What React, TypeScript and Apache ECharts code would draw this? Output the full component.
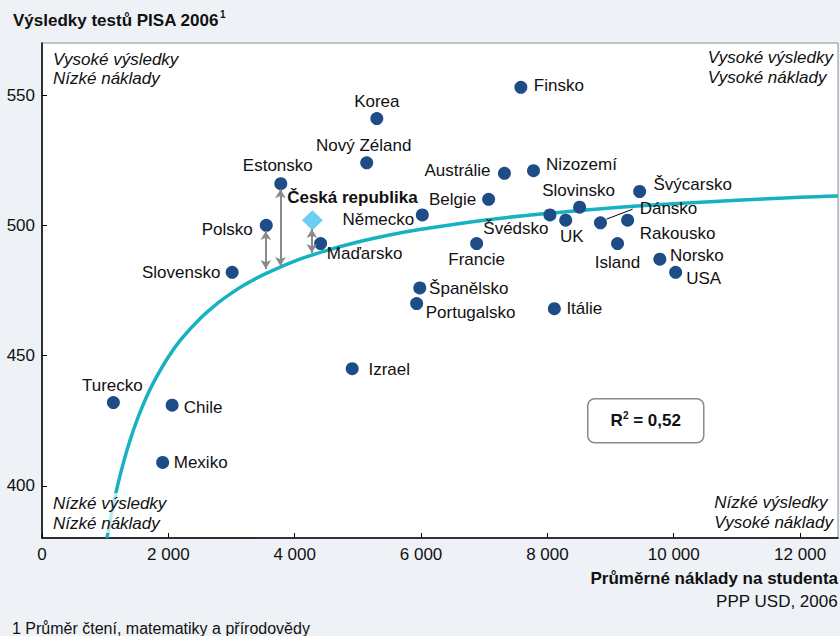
import React, { useEffect, useRef } from 'react';
import * as echarts from 'echarts';

const countries = ['Finsko', 'Korea', 'Nový Zéland', 'Estonsko', 'Austrálie', 'Nizozemí', 'Belgie', 'Německo', 'Slovinsko', 'Švédsko', 'UK', 'Dánsko', 'Rakousko', 'Švýcarsko', 'Island', 'Norsko', 'USA', 'Francie', 'Polsko', 'Maďarsko', 'Slovensko', 'Španělsko', 'Portugalsko', 'Itálie', 'Izrael', 'Turecko', 'Chile', 'Mexiko'];
const costs = [7580, 5300, 5140, 3780, 7320, 7780, 7070, 6020, 8510, 8040, 8290, 8840, 9270, 9460, 9110, 9780, 10030, 6880, 3550, 4410, 3010, 5980, 5930, 8110, 4910, 1130, 2060, 1910];
const scores = [553, 541, 524, 516, 520, 521, 510, 504, 507, 504, 502, 501, 502, 513, 493, 487, 482, 493, 500, 493, 482, 476, 470, 468, 445, 432, 431, 409];

const czName = 'Česká republika';
const czCost = 4280;
const czScore = 502;

// trend curve
const curveX = [1030, 1100, 1200, 1300, 1400, 1500, 1600, 1700, 1800, 2000, 2200, 2500, 2800, 3000, 3200, 3500, 4000, 4500, 5000, 5500, 6000, 7000, 8000, 9000, 10000, 11000, 12000, 12600];
const curveY = [380, 389.4, 400.5, 409.9, 418, 425, 431.1, 436.5, 441.3, 449.5, 456.2, 464.2, 470.5, 474, 477.1, 481, 486.3, 490.3, 493.6, 496.3, 498.5, 502, 504.6, 506.7, 508.3, 509.6, 510.8, 511.3];

// distance arrows (to the curve)
const arrowX = [3543, 3774, 4271];
const arrowTop = [497.8, 513.9, 498.6];
const arrowBottom = [483.3, 484.4, 489.4];

const xTicks = [0, 2000, 4000, 6000, 8000, 10000, 12000];
const yTicks = [400, 450, 500, 550];

const r2Text = '0,52';

// label placement (style)
const labelOffsets: Record<string, [number, number]> = {
  'Finsko': [38, -2],
  'Korea': [0, -17],
  'Nový Zéland': [-3, -17],
  'Estonsko': [-3, -18],
  'Austrálie': [-47, -3],
  'Nizozemí': [48, -6],
  'Belgie': [-36, 0],
  'Německo': [-44, 5],
  'Slovinsko': [-1, -17],
  'Švédsko': [-34, 14],
  'UK': [6, 16],
  'Dánsko': [68, -14],
  'Rakousko': [50, 13],
  'Švýcarsko': [53, -7],
  'Island': [0, 19],
  'Norsko': [37, -4],
  'USA': [28, 6],
  'Francie': [0, 16],
  'Polsko': [-39, 4],
  'Maďarsko': [44, 10],
  'Slovensko': [-51, 0],
  'Španělsko': [49, 1],
  'Portugalsko': [54, 9],
  'Itálie': [30, 0],
  'Izrael': [37, 1],
  'Turecko': [-1, -17],
  'Chile': [31, 2],
  'Mexiko': [38, 0],
};

const FONT = 'Liberation Sans, Arial, Helvetica, sans-serif';
const TXT = '#111111';

export default function App() {
  const ref = useRef<HTMLDivElement>(null);
  useEffect(() => {
    if (!ref.current) return;
    const chart = echarts.init(ref.current, undefined, { renderer: 'svg' });
    const fmt = (v: number) => String(v).replace(/\B(?=(\d{3})+(?!\d))/g, ' ');
    const option: any = {
      animation: false,
      backgroundColor: '#eef2f6',
      textStyle: { fontFamily: FONT },
      title: {
        left: 8,
        top: 4,
        text: '{t|Výsledky testů PISA 2006}{s|1}',
        textStyle: {
          rich: {
            t: { fontSize: 17, fontWeight: 'bold', color: TXT, fontFamily: FONT, lineHeight: 22 },
            s: { fontSize: 10, fontWeight: 'bold', color: TXT, fontFamily: FONT, verticalAlign: 'top', lineHeight: 12, padding: [0, 0, 8, 1] },
          },
        },
      },
      grid: {
        left: 42,
        right: 2,
        top: 43,
        bottom: 98,
        show: true,
        backgroundColor: '#ffffff',
        borderColor: '#8c8c8c',
        borderWidth: 1,
      },
      xAxis: {
        type: 'value',
        min: 0,
        max: 12600,
        splitLine: { show: false },
        axisLine: { show: true, onZero: false, lineStyle: { color: '#000', width: 1.5 } },
        axisTick: { show: true, inside: true, length: 5, customValues: xTicks, lineStyle: { color: '#000' } },
        axisLabel: { customValues: xTicks, formatter: (v: number) => fmt(v), fontSize: 17, color: TXT, margin: 8, fontFamily: FONT },
      },
      yAxis: {
        type: 'value',
        min: 380,
        max: 570,
        splitLine: { show: false },
        axisLine: { show: true, onZero: false, lineStyle: { color: '#000', width: 1.5 } },
        axisTick: { show: true, inside: true, length: 5, customValues: yTicks, lineStyle: { color: '#000' } },
        axisLabel: { customValues: yTicks, fontSize: 17, color: TXT, margin: 7, fontFamily: FONT },
      },
      series: [
        {
          type: 'line',
          data: curveX.map((x, i) => [x, curveY[i]]),
          smooth: 0.4,
          showSymbol: false,
          lineStyle: { color: '#17b2c1', width: 3.5 },
          z: 2,
          silent: true,
        },
        {
          type: 'scatter',
          symbol: 'circle',
          symbolSize: 13,
          itemStyle: { color: '#1d4c86', opacity: 1 },
          z: 4,
          label: {
            show: true,
            position: 'inside',
            formatter: '{b}',
            fontSize: 17,
            color: TXT,
            fontFamily: FONT,
          },
          data: countries.map((n, i) => ({
            name: n,
            value: [costs[i], scores[i]],
            label: { offset: labelOffsets[n] || [0, 0] },
          })),
          markLine: {
            silent: true,
            symbol: ['arrow', 'arrow'],
            symbolSize: [8, 9],
            label: { show: false },
            lineStyle: { color: '#8a8a8a', width: 2, type: 'solid' },
            data: arrowX.map((x, i) => [
              { coord: [x, arrowTop[i]] },
              { coord: [x, arrowBottom[i]] },
            ]),
          },
        },
        {
          type: 'scatter',
          symbol: 'diamond',
          symbolSize: [21, 20],
          itemStyle: { color: '#6dcdf5', opacity: 1 },
          z: 4,
          label: {
            show: true,
            position: 'inside',
            formatter: '{b}',
            fontSize: 17,
            fontWeight: 'bold',
            color: TXT,
            fontFamily: FONT,
            offset: [40, -23],
          },
          data: [{ name: czName, value: [czCost, czScore] }],
          markLine: {
            silent: true,
            symbol: 'none',
            label: { show: false },
            lineStyle: { color: '#000', width: 1, type: 'solid' },
            data: [[{ coord: [8937, 502.4] }, { coord: [9349, 506.2] }]],
          },
        },
      ],
      graphic: [
        {
          type: 'text',
          left: 53,
          top: 50,
          z: 10,
          style: { text: 'Vysoké výsledky\nNízké náklady', font: `italic 17px ${FONT}`, fill: TXT, lineHeight: 19 },
        },
        {
          type: 'text',
          right: 7,
          top: 47,
          z: 10,
          style: { text: 'Vysoké výsledky\nVysoké náklady', font: `italic 17px ${FONT}`, fill: TXT, lineHeight: 20, align: 'right' },
        },
        {
          type: 'text',
          left: 53,
          top: 493,
          z: 10,
          style: { text: 'Nízké výsledky\nNízké náklady', font: `italic 17px ${FONT}`, fill: TXT, lineHeight: 20, backgroundColor: 'rgba(255,255,255,0.7)' },
        },
        {
          type: 'text',
          right: 7,
          top: 492,
          z: 10,
          style: { text: 'Nízké výsledky\nVysoké náklady', font: `italic 17px ${FONT}`, fill: TXT, lineHeight: 20, align: 'right' },
        },
        {
          type: 'text',
          right: 2,
          top: 570,
          style: { text: 'Průměrné náklady na studenta', font: `bold 17px ${FONT}`, fill: TXT, align: 'right' },
        },
        {
          type: 'text',
          right: 2,
          top: 593,
          style: { text: 'PPP USD, 2006', font: `17px ${FONT}`, fill: TXT, align: 'right' },
        },
        {
          type: 'text',
          left: 12,
          top: 620,
          style: { text: '1 Průměr čtení, matematiky a přírodovědy', font: `16px ${FONT}`, fill: TXT },
        },
        {
          type: 'group',
          left: 587,
          top: 398,
          z: 10,
          children: [
            {
              type: 'rect',
              shape: { x: 0, y: 0, width: 116, height: 44, r: 7 },
              style: { fill: '#ffffff', stroke: '#8a8a8a', lineWidth: 1.5 },
            },
            {
              type: 'text',
              x: 58,
              y: 22,
              style: {
                text: `{a|R}{s|2}{a| = ${r2Text}}`,
                align: 'center',
                verticalAlign: 'middle',
                rich: {
                  a: { font: `bold 17px ${FONT}`, fill: TXT, lineHeight: 20 },
                  s: { font: `bold 10px ${FONT}`, fill: TXT, verticalAlign: 'top', padding: [0, 0, 8, 0] },
                },
              },
            },
          ],
        },
      ],
    };
    chart.setOption(option);
    return () => chart.dispose();
  }, []);
  return (
    <div style={{ position: 'fixed', left: 0, top: 0, width: 840, height: 636, background: '#eef2f6' }}>
      <div ref={ref} style={{ width: 840, height: 636 }} />
    </div>
  );
}
